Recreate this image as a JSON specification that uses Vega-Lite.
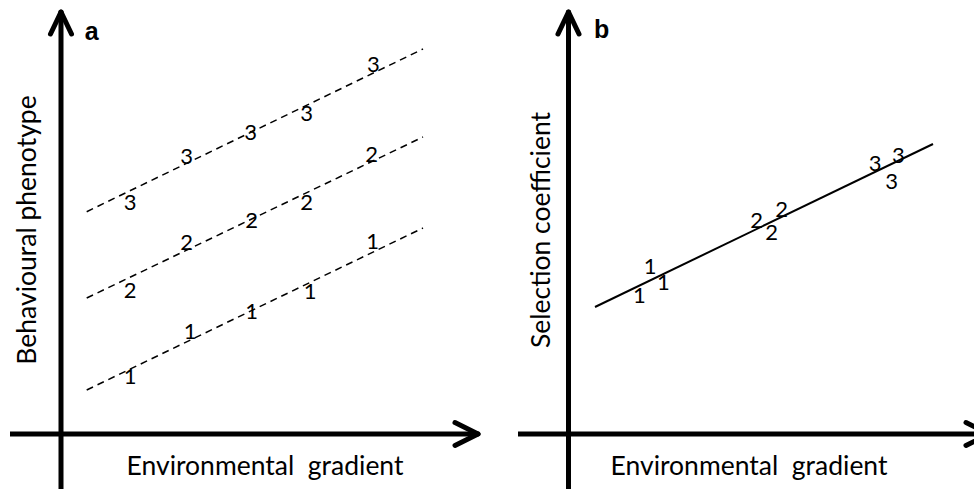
{
  "$schema": "https://vega.github.io/schema/vega-lite/v6.json",
  "padding": 0,
  "spacing": 0,
  "background": "white",
  "config": {"view": {"stroke": null}, "concat": {"spacing": 0}},
  "hconcat": [
    {
      "width": 487,
      "height": 489,
      "encoding": {
        "x": {"field": "x", "type": "quantitative", "scale": {"domain": [-6.1, 42.6], "nice": false, "zero": false}, "axis": null},
        "y": {"field": "y", "type": "quantitative", "scale": {"domain": [-5.5, 43.4], "nice": false, "zero": false}, "axis": null}
      },
      "layer": [
        {
          "data": {"values": [
            {"x": 0, "y": -5.5, "x2": 0, "y2": 42.2},
            {"x": -5.1, "y": 0, "x2": 41.7, "y2": 0}
          ]},
          "mark": {"type": "rule", "color": "black", "strokeWidth": 5},
          "encoding": {"x2": {"field": "x2"}, "y2": {"field": "y2"}}
        },
        {
          "data": {"values": [
            {"x": 0, "y": 42.2, "x2": -1.05, "y2": 40.0},
            {"x": 0, "y": 42.2, "x2": 1.05, "y2": 40.0},
            {"x": 41.7, "y": 0, "x2": 39.4, "y2": 1.15},
            {"x": 41.7, "y": 0, "x2": 39.4, "y2": -1.15}
          ]},
          "mark": {"type": "rule", "color": "black", "strokeWidth": 5, "strokeCap": "round"},
          "encoding": {"x2": {"field": "x2"}, "y2": {"field": "y2"}}
        },
        {
          "data": {"values": [
            {"s": "3", "x": 2.57, "y": 22.23}, {"s": "3", "x": 36.2, "y": 38.5},
            {"s": "2", "x": 2.57, "y": 13.6}, {"s": "2", "x": 36.2, "y": 29.7},
            {"s": "1", "x": 2.57, "y": 4.4}, {"s": "1", "x": 36.2, "y": 20.6}
          ]},
          "mark": {"type": "line", "color": "black", "strokeWidth": 1.5, "strokeDash": [7, 5]},
          "encoding": {"detail": {"field": "s"}}
        },
        {
          "data": {"values": [
            {"t": "3", "x": 6.9, "y": 23.13}, {"t": "3", "x": 12.57, "y": 27.73}, {"t": "3", "x": 18.97, "y": 30.13}, {"t": "3", "x": 24.57, "y": 32.0}, {"t": "3", "x": 31.23, "y": 36.9},
            {"t": "2", "x": 6.9, "y": 14.33}, {"t": "2", "x": 12.57, "y": 19.13}, {"t": "2", "x": 19.07, "y": 21.33}, {"t": "2", "x": 24.57, "y": 23.07}, {"t": "2", "x": 31.07, "y": 27.9},
            {"t": "1", "x": 6.9, "y": 5.73}, {"t": "1", "x": 12.9, "y": 10.23}, {"t": "1", "x": 19.07, "y": 12.23}, {"t": "1", "x": 24.9, "y": 14.23}, {"t": "1", "x": 31.17, "y": 19.23}
          ]},
          "mark": {"type": "text", "font": "Lato", "fontSize": 22, "color": "black", "baseline": "middle", "align": "center"},
          "encoding": {"text": {"field": "t"}}
        },
        {
          "data": {"values": [{"t": "a", "x": 3.07, "y": 40.2}]},
          "mark": {"type": "text", "font": "Liberation Sans", "fontWeight": "bold", "fontSize": 25, "color": "black", "baseline": "middle", "align": "center"},
          "encoding": {"text": {"field": "t"}}
        },
        {
          "data": {"values": [{"t": "Environmental\u00a0\u00a0gradient", "x": 20.4, "y": -4.1}]},
          "mark": {"type": "text", "font": "Lato", "fontSize": 26.5, "color": "black", "baseline": "alphabetic", "align": "center"},
          "encoding": {"text": {"field": "t"}}
        },
        {
          "data": {"values": [{"t": "Behavioural phenotype", "x": -3.35, "y": 20.4}]},
          "mark": {"type": "text", "font": "Lato", "fontSize": 26.5, "color": "black", "baseline": "middle", "align": "center", "angle": 270},
          "encoding": {"text": {"field": "t"}}
        }
      ]
    },
    {
      "width": 487,
      "height": 489,
      "encoding": {
        "x": {"field": "x", "type": "quantitative", "scale": {"domain": [-8.15, 40.55], "nice": false, "zero": false}, "axis": null},
        "y": {"field": "y", "type": "quantitative", "scale": {"domain": [-5.5, 43.4], "nice": false, "zero": false}, "axis": null}
      },
      "layer": [
        {
          "data": {"values": [
            {"x": 0, "y": -5.5, "x2": 0, "y2": 42.2},
            {"x": -5.05, "y": 0, "x2": 42.05, "y2": 0}
          ]},
          "mark": {"type": "rule", "color": "black", "strokeWidth": 5, "clip": true},
          "encoding": {"x2": {"field": "x2"}, "y2": {"field": "y2"}}
        },
        {
          "data": {"values": [
            {"x": 0, "y": 42.2, "x2": -1.05, "y2": 40.0},
            {"x": 0, "y": 42.2, "x2": 1.05, "y2": 40.0},
            {"x": 42.05, "y": 0, "x2": 39.75, "y2": 1.15},
            {"x": 42.05, "y": 0, "x2": 39.75, "y2": -1.15}
          ]},
          "mark": {"type": "rule", "color": "black", "strokeWidth": 5, "strokeCap": "round", "clip": true},
          "encoding": {"x2": {"field": "x2"}, "y2": {"field": "y2"}}
        },
        {
          "data": {"values": [
            {"x": 2.65, "y": 12.7}, {"x": 36.45, "y": 29.0}
          ]},
          "mark": {"type": "line", "color": "black", "strokeWidth": 2}
        },
        {
          "data": {"values": [
            {"t": "1", "x": 8.15, "y": 16.67}, {"t": "1", "x": 9.48, "y": 15.13}, {"t": "1", "x": 7.08, "y": 13.8},
            {"t": "2", "x": 18.82, "y": 21.33}, {"t": "2", "x": 21.32, "y": 22.4}, {"t": "2", "x": 20.32, "y": 20.07},
            {"t": "3", "x": 30.65, "y": 26.97}, {"t": "3", "x": 32.98, "y": 27.8}, {"t": "3", "x": 32.32, "y": 25.23}
          ]},
          "mark": {"type": "text", "font": "Lato", "fontSize": 22, "color": "black", "baseline": "middle", "align": "center"},
          "encoding": {"text": {"field": "t"}}
        },
        {
          "data": {"values": [{"t": "b", "x": 3.32, "y": 40.4}]},
          "mark": {"type": "text", "font": "Liberation Sans", "fontWeight": "bold", "fontSize": 25, "color": "black", "baseline": "middle", "align": "center"},
          "encoding": {"text": {"field": "t"}}
        },
        {
          "data": {"values": [{"t": "Environmental\u00a0\u00a0gradient", "x": 18.05, "y": -4.1}]},
          "mark": {"type": "text", "font": "Lato", "fontSize": 26.5, "color": "black", "baseline": "alphabetic", "align": "center"},
          "encoding": {"text": {"field": "t"}}
        },
        {
          "data": {"values": [{"t": "Selection coefficient", "x": -2.7, "y": 20.4}]},
          "mark": {"type": "text", "font": "Lato", "fontSize": 26.5, "color": "black", "baseline": "middle", "align": "center", "angle": 270},
          "encoding": {"text": {"field": "t"}}
        }
      ]
    }
  ]
}
